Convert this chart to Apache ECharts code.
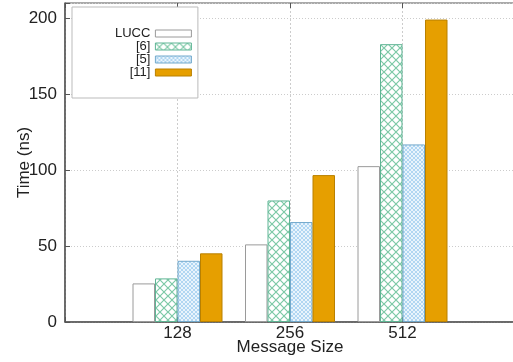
<!DOCTYPE html>
<html><head><meta charset="utf-8">
<script src="https://cdn.jsdelivr.net/npm/echarts@6/dist/echarts.min.js"></script>
<style>html,body{margin:0;padding:0;background:#fff}#c{width:513px;height:362px}</style>
</head><body><div id="c"></div>
<script>
const categories = ['', '128', '256', '512', ''];
const seriesNames = ['LUCC', '[6]', '[5]', '[11]'];
const lucc = [null, 25.4, 51.1, 102.6, null];
const ref6 = [null, 28.7, 80.0, 182.9, null];
const ref5 = [null, 40.3, 65.8, 116.9, null];
const ref11 = [null, 45.2, 96.7, 199.1, null];
const yTicks = [0, 50, 100, 150, 200];

function hatch(size, bg, fg, lw) {
  const c = document.createElement('canvas');
  c.width = size; c.height = size;
  const g = c.getContext('2d');
  g.fillStyle = bg; g.fillRect(0, 0, size, size);
  g.strokeStyle = fg; g.lineWidth = lw;
  g.beginPath();
  g.moveTo(0, 0); g.lineTo(size, size);
  g.moveTo(size, 0); g.lineTo(0, size);
  g.stroke();
  return c;
}
const pat6 = { image: hatch(8, '#ffffff', '#7cc9a6', 1.2), repeat: 'repeat' };
const pat5 = { image: hatch(4, '#e9f4fc', '#a9d2f0', 0.9), repeat: 'repeat' };

const font = 'Liberation Sans, Arial, Helvetica, sans-serif';
const chart = echarts.init(document.getElementById('c'), null, { renderer: 'canvas' });
const barBase = { type: 'bar', barWidth: '20%', barGap: '0%', animation: false };
chart.setOption({
  backgroundColor: '#fff',
  animation: false,
  grid: { left: 65, top: 3, width: 450, height: 319, containLabel: false, outerBoundsMode: 'none',
    show: true, borderColor: '#555', borderWidth: 1, backgroundColor: 'transparent' },
  legend: {
    orient: 'vertical', left: 72, top: 7, align: 'right',
    padding: [20, 6, 19, 43],
    backgroundColor: '#fff', borderColor: '#bbb', borderWidth: 1, borderRadius: 0,
    itemWidth: 36, itemHeight: 7, itemGap: 0,
    itemStyle: { borderWidth: 1 },
    textStyle: { fontFamily: font, fontSize: 13, color: '#222', lineHeight: 13 },
    data: seriesNames.map(n => ({ name: n, icon: 'rect' }))
  },
  xAxis: [{
    type: 'category', data: categories, boundaryGap: false,
    name: 'Message Size', nameLocation: 'middle', nameGap: 17, nameMoveOverlap: false,
    nameTextStyle: { fontFamily: font, fontSize: 17, color: '#222' },
    axisLine: { show: true, lineStyle: { color: '#555', width: 1.5 } },
    axisTick: { show: true, inside: true, length: 5, lineStyle: { color: '#555' } },
    axisLabel: { fontFamily: font, fontSize: 17, color: '#222', margin: 3, interval: 0 },
    splitLine: { show: true, lineStyle: { color: '#ccc', type: [2, 2], width: 1 } }
  }, {
    type: 'category', data: categories, boundaryGap: false, position: 'top',
    axisLine: { show: false },
    axisTick: { show: true, inside: true, length: 5, lineStyle: { color: '#555' } },
    axisLabel: { show: false }, splitLine: { show: false }
  }],
  yAxis: {
    type: 'value', min: 0, max: 210, interval: 50,
    name: 'Time (ns)', nameLocation: 'middle', nameGap: 32, nameRotate: 90, nameMoveOverlap: false,
    nameTextStyle: { fontFamily: font, fontSize: 17, color: '#222' },
    axisLine: { show: true, lineStyle: { color: '#555', width: 1.5 } },
    axisTick: { show: true, inside: true, length: 5, lineStyle: { color: '#555' } },
    axisLabel: { fontFamily: font, fontSize: 17, color: '#222', margin: 8,
      formatter: v => (yTicks.indexOf(v) >= 0 ? String(v) : '') },
    splitLine: { show: true, lineStyle: { color: '#ccc', type: [1, 2], width: 1 } }
  },
  series: [
    Object.assign({}, barBase, { name: 'LUCC', data: lucc, itemStyle: { color: '#ffffff', borderColor: '#9a9a9a', borderWidth: 1 } }),
    Object.assign({}, barBase, { name: '[6]', data: ref6, itemStyle: { color: pat6, borderColor: '#5fb595', borderWidth: 1 } }),
    Object.assign({}, barBase, { name: '[5]', data: ref5, itemStyle: { color: pat5, borderColor: '#73a9cc', borderWidth: 1 } }),
    Object.assign({}, barBase, { name: '[11]', data: ref11, itemStyle: { color: '#e69f00', borderColor: '#b98000', borderWidth: 1 } })
  ]
});
</script></body></html>
